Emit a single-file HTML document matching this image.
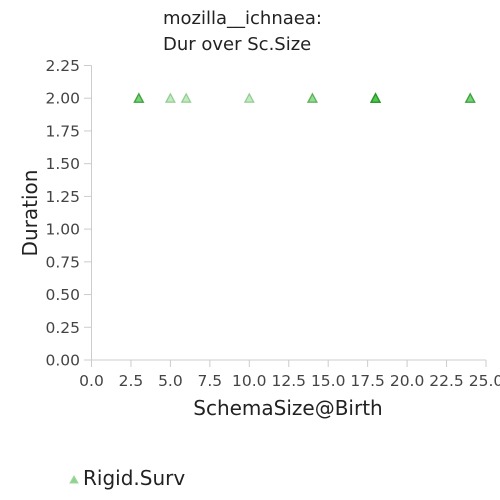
<!DOCTYPE html>
<html><head><meta charset="utf-8"><style>
body{margin:0;background:#fff;}
svg{display:block;font-family:"DejaVu Sans","Liberation Sans",sans-serif;}
</style></head><body>
<svg id="chart" width="500" height="500">
<text x="163" y="24" font-size="18" fill="#222">mozilla__ichnaea:</text>
<text x="163" y="50" font-size="18" fill="#222">Dur over Sc.Size</text>
<g id="axes"></g>
<g id="marks"></g>
<text x="288" y="415" font-size="20" fill="#222" text-anchor="middle">SchemaSize@Birth</text>
<text transform="translate(37,213) rotate(-90)" font-size="20" fill="#222" text-anchor="middle">Duration</text>
<g>
<path d="M70,483 L74,476 L78,483 Z" fill="#8fd18f" stroke="#9fd89f" stroke-width="1"/>
<text x="83" y="485" font-size="20" fill="#222">Rigid.Surv</text>
</g>
</svg>
<script>
const xTicks=[0,2.5,5,7.5,10,12.5,15,17.5,20,22.5,25];
const yTicks=[0,0.25,0.5,0.75,1,1.25,1.5,1.75,2,2.25];
const xValues=[3,3,3,5,6,10,14,14,18,18,18,18,18,24,24,24];
const yValues=[2,2,2,2,2,2,2,2,2,2,2,2,2,2,2,2];
const NS="http://www.w3.org/2000/svg";
const sx=v=>91.5+v*(486-91.5)/25;
const sy=v=>360-v*(360-65.5)/2.25;
const axes=document.getElementById('axes');
const marks=document.getElementById('marks');
function mk(tag,attrs,parent){const e=document.createElementNS(NS,tag);for(const k in attrs)e.setAttribute(k,attrs[k]);parent.appendChild(e);return e;}
let l=mk('line',{x1:91.5,y1:65.5,x2:91.5,y2:360,stroke:'#ccc'},axes);


l=mk('line',{x1:91.5,y1:360,x2:486,y2:360,stroke:'#ccc'},axes);


xTicks.forEach(t=>{
 const x=sx(t);
 const tk=mk('line',{x1:x,y1:360,x2:x,y2:367,stroke:'#ccc'},axes);
 
 
 const tx=mk('text',{x:x,y:386,'font-size':15.5,fill:'#444','text-anchor':'middle'},axes);
 tx.textContent=t.toFixed(1);
 
 
});
yTicks.forEach(t=>{
 const y=sy(t);
 const tk=mk('line',{x1:84,y1:y,x2:91.5,y2:y,stroke:'#ccc'},axes);
 
 
 const tx=mk('text',{x:80,y:y+5.5,'font-size':15.5,fill:'#444','text-anchor':'end'},axes);
 tx.textContent=t.toFixed(2);
 
 
});
xValues.forEach((v,i)=>{
 const x=sx(v),y=sy(yValues[i]);
 const p=mk('path',{d:`M${x-4.5},${y+4} L${x},${y-4.5} L${x+4.5},${y+4} Z`,fill:'#33bb33','fill-opacity':0.3,stroke:'#118811','stroke-opacity':0.35,'stroke-width':1.3},marks);
 
 
});
</script>
</body></html>
